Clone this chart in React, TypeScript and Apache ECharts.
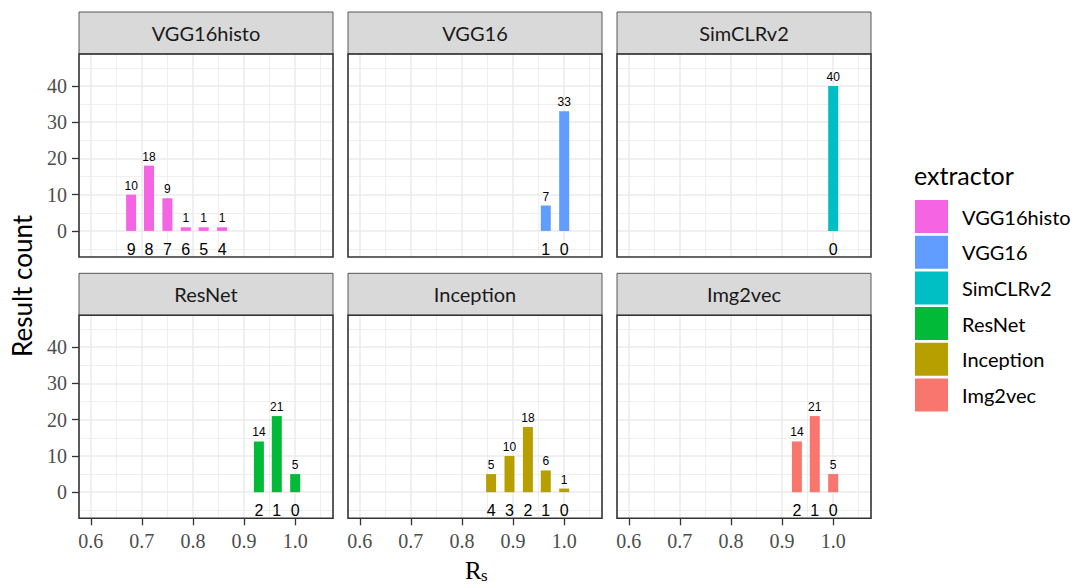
import React, { useEffect, useRef } from "react";
import * as echarts from "echarts";

// ---- data ----
const extractors = ["VGG16histo", "VGG16", "SimCLRv2", "ResNet", "Inception", "Img2vec"];
const colors = ["#F564E3", "#619CFF", "#00BFC4", "#00BA38", "#B79F00", "#F8766D"];
// Rs values of each bar (x positions)
const rsValues: number[][] = [
  [0.679, 0.714, 0.75, 0.786, 0.821, 0.857],
  [0.964, 1.0],
  [1.0],
  [0.929, 0.964, 1.0],
  [0.857, 0.893, 0.929, 0.964, 1.0],
  [0.929, 0.964, 1.0],
];
// result counts (bar heights)
const counts: number[][] = [
  [10, 18, 9, 1, 1, 1],
  [7, 33],
  [40],
  [14, 21, 5],
  [5, 10, 18, 6, 1],
  [14, 21, 5],
];
// rank-distance labels below each bar
const rankLabels: number[][] = [
  [9, 8, 7, 6, 5, 4],
  [1, 0],
  [0],
  [2, 1, 0],
  [4, 3, 2, 1, 0],
  [2, 1, 0],
];
const xTicks = [0.6, 0.7, 0.8, 0.9, 1.0];
const xMinor = [0.65, 0.75, 0.85, 0.95, 1.05];
const yTicks = [0, 10, 20, 30, 40];
const yMinor = [-5, 5, 15, 25, 35, 45];
const X_MIN = 0.577;
const X_MAX = 1.074;
const Y_MIN = -7.2;
const Y_MAX = 48.8;
const BELOW_Y = -5;

const SANS = "Lato";
const SERIF = "Liberation Serif";

export default function App() {
  const ref = useRef<HTMLDivElement>(null);
  useEffect(() => {
    if (!ref.current) return;
    const chart = echarts.init(ref.current, undefined, { renderer: "svg" });

    const grids: any[] = [];
    const xAxes: any[] = [];
    const yAxes: any[] = [];
    const series: any[] = [];
    const graphics: any[] = [];

    const PW = 254;
    const PH = 203;
    const STRIP_H = 42;

    extractors.forEach((name, i) => {
      const col = i % 3;
      const row = Math.floor(i / 3);
      const left = 79 + col * 269;
      const top = row === 0 ? 54 : 315.3;
      grids.push({ left, top, width: PW, height: PH, containLabel: false });

      const showX = row === 1;
      const showY = col === 0;
      xAxes.push({
        type: "value",
        gridIndex: i,
        min: X_MIN,
        max: X_MAX,
        position: "bottom",
        axisLine: { show: false, onZero: false },
        splitLine: { show: false },
        axisTick: {
          show: showX,
          customValues: xTicks,
          length: 7,
          lineStyle: { color: "#333333", width: 1.3 },
        },
        axisLabel: {
          show: showX,
          customValues: xTicks,
          margin: 13,
          fontFamily: SERIF,
          fontSize: 20,
          color: "#4D4D4D",
          formatter: (v: number) => v.toFixed(1),
        },
      });
      yAxes.push({
        type: "value",
        gridIndex: i,
        min: Y_MIN,
        max: Y_MAX,
        position: "left",
        axisLine: { show: false, onZero: false },
        splitLine: { show: false },
        axisTick: {
          show: showY,
          customValues: yTicks,
          length: 7,
          lineStyle: { color: "#333333", width: 1.3 },
        },
        axisLabel: {
          show: showY,
          customValues: yTicks,
          margin: 12,
          fontFamily: SERIF,
          fontSize: 20,
          color: "#4D4D4D",
        },
      });

      const gridLineData: any[] = [
        ...xMinor.map((v) => ({ xAxis: v, lineStyle: { width: 0.8, color: "#EBEBEB", type: "solid" } })),
        ...yMinor.map((v) => ({ yAxis: v, lineStyle: { width: 0.8, color: "#EBEBEB", type: "solid" } })),
        ...xTicks.map((v) => ({ xAxis: v, lineStyle: { width: 1.5, color: "#EBEBEB", type: "solid" } })),
        ...yTicks.map((v) => ({ yAxis: v, lineStyle: { width: 1.5, color: "#EBEBEB", type: "solid" } })),
      ];

      series.push({
        type: "bar",
        name,
        xAxisIndex: i,
        yAxisIndex: i,
        z: 3,
        barWidth: 10,
        itemStyle: { color: colors[i] },
        data: rsValues[i].map((x, j) => [x, counts[i][j]]),
        label: {
          show: true,
          position: "top",
          distance: 3,
          fontFamily: "Liberation Sans",
          fontSize: 12,
          color: "#000000",
          textBorderWidth: 0,
          formatter: (p: any) => String(p.value[1]),
        },
        markLine: {
          silent: true,
          z: 1,
          symbol: ["none", "none"],
          label: { show: false },
          emphasis: { disabled: true },
          animation: false,
          data: gridLineData,
        },
      });

      series.push({
        type: "custom",
        name: name + "-rank",
        xAxisIndex: i,
        yAxisIndex: i,
        z: 4,
        silent: true,
        data: rsValues[i].map((x, j) => [x, BELOW_Y, rankLabels[i][j]]),
        renderItem: (_params: any, api: any) => {
          const pt = api.coord([api.value(0), api.value(1)]);
          return {
            type: "text",
            x: pt[0],
            y: pt[1],
            style: {
              text: String(api.value(2)),
              fill: "#000000",
              fontFamily: "Liberation Sans",
              fontSize: 16,
              align: "center",
              verticalAlign: "middle",
            },
          };
        },
      });

      // strip
      graphics.push({
        type: "rect",
        shape: { x: left, y: top - STRIP_H, width: PW, height: STRIP_H },
        style: { fill: "#D9D9D9", stroke: "#333333", lineWidth: 0.8 },
        z: 50,
      });
      graphics.push({
        type: "text",
        x: left + PW / 2,
        y: top - STRIP_H / 2,
        style: {
          text: name,
          fontFamily: SANS,
          fontSize: 20,
          fill: "#1A1A1A",
          align: "center",
          verticalAlign: "middle",
        },
        z: 51,
      });
      // panel border
      graphics.push({
        type: "rect",
        shape: { x: left, y: top, width: PW, height: PH },
        style: { fill: "none", stroke: "#333333", lineWidth: 1.6 },
        z: 60,
        silent: true,
      });
    });

    // axis titles
    graphics.push({
      type: "text",
      x: 465,
      y: 570,
      style: {
        text: "R",
        fontFamily: SERIF,
        fontSize: 25,
        fill: "#000000",
        align: "left",
        verticalAlign: "middle",
      },
      z: 60,
    });
    graphics.push({
      type: "text",
      x: 481,
      y: 575,
      style: {
        text: "s",
        fontFamily: SERIF,
        fontSize: 17,
        fill: "#000000",
        align: "left",
        verticalAlign: "middle",
      },
      z: 60,
    });
    graphics.push({
      type: "text",
      x: 22,
      y: 286,
      rotation: Math.PI / 2,
      style: {
        text: "Result count",
        fontFamily: SANS,
        fontSize: 26,
        fill: "#000000",
        align: "center",
        verticalAlign: "middle",
      },
      z: 60,
    });
    // legend title
    graphics.push({
      type: "text",
      x: 914,
      y: 175,
      style: {
        text: "extractor",
        fontFamily: SANS,
        fontSize: 25,
        fill: "#000000",
        align: "left",
        verticalAlign: "middle",
      },
      z: 60,
    });

    chart.setOption({
      animation: false,
      backgroundColor: "#FFFFFF",
      grid: grids,
      xAxis: xAxes,
      yAxis: yAxes,
      series,
      graphic: graphics,
      legend: {
        data: extractors,
        orient: "vertical",
        left: 915,
        top: 200,
        padding: 0,
        icon: "rect",
        itemWidth: 33,
        itemHeight: 33,
        itemGap: 2.7,
        selectedMode: false,
        textStyle: {
          fontFamily: SANS,
          fontSize: 20,
          color: "#000000",
          padding: [0, 0, 0, 9],
        },
      },
    });
    return () => chart.dispose();
  }, []);

  return (
    <div
      ref={ref}
      style={{ position: "fixed", left: 0, top: 0, width: 1083, height: 585 }}
    />
  );
}
